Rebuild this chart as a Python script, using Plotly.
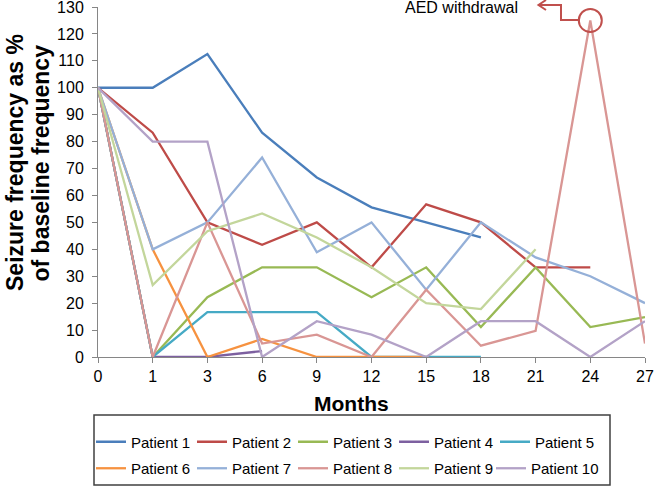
import plotly.graph_objects as go

months = ["0", "1", "3", "6", "9", "12", "15", "18", "21", "24", "27"]
N = None
patient_1 = [100, 100, 112.5, 83.3, 66.7, 55.6, 50, 44.4, N, N, N]
patient_2 = [100, 83.3, 50, 41.7, 50, 33.3, 56.7, 50, 33.3, 33.3, N]
patient_3 = [100, 0, 22.2, 33.3, 33.3, 22.2, 33.3, 11.1, 33.3, 11.1, 14.8]
patient_4 = [100, 0, 0, 2.2, N, N, N, N, N, N, N]
patient_5 = [100, 0, 16.7, 16.7, 16.7, 0, 0, 0, N, N, N]
patient_6 = [100, 40, 0, 6.7, 0, 0, 0, N, N, N, N]
patient_7 = [100, 40, 50, 74.1, 38.9, 50, 25, 50, 37, 30, 20]
patient_8 = [100, 0, 50, 5, 8.3, 0, 25, 4.2, 9.7, 125, 5]
patient_9 = [100, 26.7, 46.7, 53.3, 44.4, 33.3, 20, 17.8, 40, N, N]
patient_10 = [100, 80, 80, 0, 13.3, 8.3, 0, 13.3, 13.3, 0, 13.3]

series = [
    ("Patient 1", patient_1, "#4A7EBB"),
    ("Patient 2", patient_2, "#BE4B48"),
    ("Patient 3", patient_3, "#98B954"),
    ("Patient 4", patient_4, "#7D60A0"),
    ("Patient 5", patient_5, "#46AAC5"),
    ("Patient 6", patient_6, "#F69240"),
    ("Patient 7", patient_7, "#95B0D8"),
    ("Patient 8", patient_8, "#D99694"),
    ("Patient 9", patient_9, "#C3D69B"),
    ("Patient 10", patient_10, "#B3A2C7"),
]

W, H = 654, 486
L, R, T, B = 98, 9, 7, 129
PW, PH = W - L - R, H - T - B

def px(xp):
    return (xp - L) / PW

def py(yp):
    return (H - B - yp) / PH

def legend_for(i):
    if i < 5:
        return "legend"
    if i < 9:
        return "legend2"
    return "legend3"

xi = list(range(len(months)))
fig = go.Figure()
for i, (name, vals, col) in enumerate(series):
    fig.add_trace(go.Scatter(x=xi, y=vals, name=name, mode="lines",
                             legend=legend_for(i),
                             line=dict(color=col, width=2.3)))

font = "Liberation Sans, Arial, sans-serif"
leg_common = dict(orientation="h", xanchor="left", yanchor="top",
                  borderwidth=0, font=dict(size=15), bgcolor="rgba(0,0,0,0)",
                  entrywidth=56, entrywidthmode="pixels", tracegroupgap=0,
                  itemwidth=30)
leg_last = dict(leg_common, entrywidth=0)
fig.update_layout(
    width=W, height=H,
    margin=dict(l=L, r=R, t=T, b=B, autoexpand=False),
    paper_bgcolor="white", plot_bgcolor="white",
    font=dict(family=font, color="#000000"),
    showlegend=True,
    legend=dict(x=px(91), y=py(425.5), **leg_common),
    legend2=dict(x=px(91), y=py(452), **leg_common),
    legend3=dict(x=px(491), y=py(452), **leg_last),
)
fig.update_xaxes(range=[0, 10], tickvals=xi, ticktext=months, showgrid=False,
                 zeroline=False, showline=True, linecolor="#868686", linewidth=1,
                 ticks="outside", ticklen=5, tickcolor="#868686",
                 ticklabeloverflow="allow",
                 tickfont=dict(size=16, color="#000000"))
fig.update_yaxes(range=[0, 130], dtick=10, showgrid=False, zeroline=False,
                 showline=True, linecolor="#868686", linewidth=1,
                 ticks="outside", ticklen=5, tickcolor="#868686",
                 ticklabeloverflow="allow",
                 tickfont=dict(size=16, color="#000000"), ticklabelstandoff=5)

# legend frame
fig.add_shape(type="rect", xref="paper", yref="paper",
              x0=px(94), x1=px(610), y0=py(415), y1=py(485),
              line=dict(color="#404040", width=1.5))

# axis titles
fig.add_annotation(text="<b>Months</b>", xref="paper", yref="paper",
                   x=px(351), y=py(403), showarrow=False, font=dict(size=21),
                   xanchor="center", yanchor="middle")
fig.add_annotation(text="<b>Seizure frequency as %</b>",
                   xref="paper", yref="paper", x=px(0), y=py(163), textangle=-90,
                   showarrow=False, font=dict(size=23), xanchor="left", yanchor="middle")
fig.add_annotation(text="<b>of baseline frequency</b>",
                   xref="paper", yref="paper", x=px(25.5), y=py(163), textangle=-90,
                   showarrow=False, font=dict(size=23), xanchor="left", yanchor="middle")

# AED withdrawal callout
red = "#C0504D"
fig.add_shape(type="circle", xref="x", yref="y", xsizemode="pixel", ysizemode="pixel",
              xanchor=9, yanchor=125, x0=-11.5, x1=11.5, y0=-11.5, y1=11.5,
              line=dict(color=red, width=2))
path = "M %f,%f L %f,%f L %f,%f L %f,%f" % (px(580), py(20), px(561), py(20),
                                             px(561), py(5), px(539), py(5))
fig.add_shape(type="path", xref="paper", yref="paper", path=path,
              line=dict(color=red, width=2))
head = "M %f,%f L %f,%f L %f,%f" % (px(546), py(0), px(538.5), py(5), px(546), py(10))
fig.add_shape(type="path", xref="paper", yref="paper", path=head,
              line=dict(color=red, width=2))
fig.add_annotation(text="AED withdrawal", xref="paper", yref="paper",
                   x=px(520), y=py(7.5), xanchor="right", yanchor="middle",
                   showarrow=False, font=dict(size=16, color="#000000"))

fig.write_html("out.html", config={"displayModeBar": False},
               post_script="document.body.style.margin='0';document.body.style.overflow='hidden';")
